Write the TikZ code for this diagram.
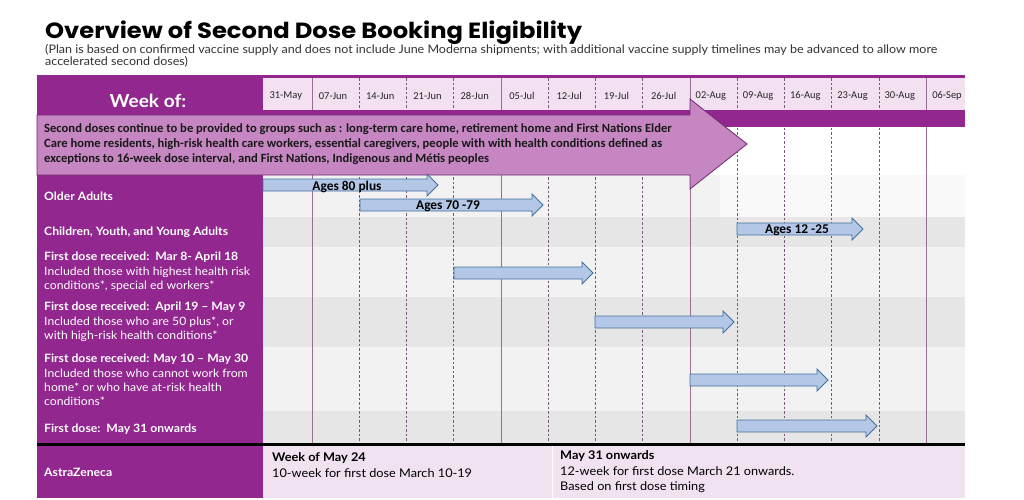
\documentclass[tikz,border=0pt]{standalone}
\usepackage{fontspec}
\setmainfont{Lato}
\newfontfamily\widefont{Lato}[FakeStretch=1.06]
\newfontfamily\calibrifont{Carlito}
\newfontfamily\headfont{Poppins}[FakeStretch=1.1]
\usepackage{tikz}
\usetikzlibrary{positioning}

\definecolor{weekpurple}{RGB}{146,39,143}
\definecolor{notepink}{RGB}{197,134,194}
\definecolor{noteborder}{RGB}{112,40,110}
\definecolor{cellpink}{RGB}{243,225,242}
\definecolor{azpink}{RGB}{241,226,241}
\definecolor{rowlight}{RGB}{242,242,242}
\definecolor{rowdark}{RGB}{230,230,230}
\definecolor{agefill}{RGB}{180,199,231}
\definecolor{ageborder}{RGB}{65,113,156}
\definecolor{gridline}{RGB}{150,110,150}

\tikzset{
  rowlabel/.style={anchor=west, inner sep=0pt, text=white, align=left,
    font=\widefont\fontsize{11.5}{14.3}\selectfont},
  rowhead/.style={rowlabel, font=\widefont\bfseries\fontsize{11.5}{14.3}\selectfont},
  datelabel/.style={inner sep=0pt, text=black!85, font=\calibrifont\fontsize{10.5}{12}\selectfont},
  agearrow/.style={fill=agefill, draw=ageborder, line width=0.8pt},
  agelabel/.style={inner sep=0pt, font=\calibrifont\bfseries\fontsize{13.4}{15}\selectfont},
  gridsolid/.style={draw=gridline, line width=0.6pt},
  griddash/.style={draw=gridline!80!black, line width=0.6pt, dash pattern=on 2.5pt off 2pt},
}

\newcommand{\drawagearrow}[3]{%
  \draw[agearrow] (#1,#3-6) -- (#2-11,#3-6) -- (#2-11,#3-11) -- (#2,#3)
    -- (#2-11,#3+11) -- (#2-11,#3+6) -- (#1,#3+6) -- cycle;}

\begin{document}
\begin{tikzpicture}[x=1pt, y=-1pt]
  \useasboundingbox[fill=white] (0,0) rectangle (1024,499);

  % title
  \node[anchor=base west, inner sep=0pt, font=\headfont\bfseries\fontsize{22}{24}\selectfont] (title)
    at (45,38) {Overview of Second Dose Booking Eligibility};
  \node[anchor=north west, inner sep=0pt, align=left, text=black!80,
    font=\widefont\fontsize{11.8}{12.5}\selectfont] (subtitle) at (45,44)
    {(Plan is based on confirmed vaccine supply and does not include June Moderna shipments; with additional vaccine supply timelines may be advanced to allow more\\
     accelerated second doses)};

  % header
  \fill[weekpurple] (37,75) rectangle (965,127);
  \fill[cellpink] (263,78) rectangle (965,110);

  % rows
  \foreach \a/\b/\c in {175/217/rowlight, 217/247/rowdark, 247/297/rowlight,
      297/347/rowdark, 347/411/rowlight, 411/443/rowdark} {
    \fill[\c] (263,\a) rectangle (965,\b);
    \fill[weekpurple] (37,\a) rectangle (263,\b);
    \draw[white, line width=1pt] (37,\b) -- (965,\b);
  }
  \fill[white!55!rowlight] (720,175) rectangle (965,216.5);

  % week lines
  \foreach \i in {2,3,4,6,7,8,10,11,12,13}
    \draw[griddash] (264.8+47.23*\i,78) -- (264.8+47.23*\i,443);
  \foreach \i in {1,5,9,14}
    \draw[gridsolid] (264.8+47.23*\i,78) -- (264.8+47.23*\i,443);
  \fill[weekpurple] (263,110) rectangle (965,127);

  \foreach \d [count=\j from 0] in {31-May,07-Jun,14-Jun,21-Jun,28-Jun,05-Jul,12-Jul,
      19-Jul,26-Jul,02-Aug,09-Aug,16-Aug,23-Aug,30-Aug,06-Sep}
    \node[datelabel] (date\j) at (264.8+47.23*\j+21,96) {\d};
  \node[inner sep=0pt, text=white, font=\widefont\bfseries\fontsize{18}{20}\selectfont] (weekof)
    at (148,101) {Week of:};

  % second dose note
  \draw[fill=notepink, draw=noteborder, line width=0.8pt]
    (37,115) -- (690,115) -- (690,99) -- (747,144) -- (690,189) -- (690,175) -- (37,175) -- cycle;
  \node[anchor=west, inner sep=0pt, align=left, text=black!90,
    font=\calibrifont\bfseries\fontsize{12.6}{15}\selectfont] (note) at (44,144)
    {Second doses continue to be provided to groups such as : long-term care home, retirement home and First Nations Elder\\
     Care home residents, high-risk health care workers, essential caregivers, people with with health conditions defined as\\
     exceptions to 16-week dose interval, and First Nations, Indigenous and Métis peoples};

  % booking arrows
  \drawagearrow{263}{438}{185}
  \drawagearrow{360}{543}{205}
  \drawagearrow{737}{863}{229}
  \drawagearrow{454}{593}{273}
  \drawagearrow{595}{734}{322}
  \drawagearrow{690}{828}{380}
  \drawagearrow{737}{877}{426}
  \node[agelabel] (age80) at (347,187) {Ages 80 plus};
  \node[agelabel] (age70) at (448,206) {Ages 70 -79};
  \node[agelabel] (age12) at (797,230) {Ages 12 -25};

  % row labels
  \node[rowhead] (older) at (44,196) {Older Adults};
  \node[rowhead] (young) at (44,232) {Children, Youth, and Young Adults};
  \node[rowlabel] (marapr) at (44,272)
    {\textbf{First dose received:\ \ Mar 8- April 18}\\
     Included those with highest health risk\\
     conditions*, special ed workers*};
  \node[rowlabel] (aprmay) at (44,322)
    {\textbf{First dose received:\ \ April 19 – May 9}\\
     Included those who are 50 plus*, or\\
     with high-risk health conditions*};
  \node[rowlabel] (maymay) at (44,380)
    {\textbf{First dose received: May 10 – May 30}\\
     Included those who cannot work from\\
     home* or who have at-risk health\\
     conditions*};
  \node[rowhead] (onward) at (44,429) {First dose:\ \ May 31 onwards};

  % astrazeneca
  \draw[line width=3pt] (37,444) -- (965,444);
  \fill[weekpurple] (37,445.5) rectangle (263,498);
  \fill[azpink] (263,445.5) rectangle (965,498);
  \draw[white, line width=0.8pt] (552,445.5) -- (552,498);
  \node[rowhead] (astra) at (44,472) {AstraZeneca};
  \node[anchor=west, inner sep=0pt, align=left, font=\widefont\fontsize{12}{15.5}\selectfont] (azweek)
    at (272,465) {\textbf{Week of May 24}\\10-week for first dose March 10-19};
  \node[anchor=west, inner sep=0pt, align=left, font=\widefont\fontsize{12}{15.5}\selectfont] (azmay)
    at (560,472) {\textbf{May 31 onwards}\\12-week for first dose March 21 onwards.\\Based on first dose timing};
\end{tikzpicture}
\end{document}
